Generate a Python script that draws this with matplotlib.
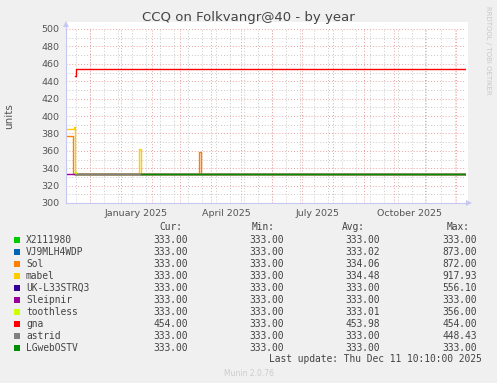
import matplotlib
matplotlib.use("Agg")
import matplotlib.pyplot as plt
import matplotlib.dates as mdates
from matplotlib.patches import Rectangle
import pandas as pd

W, H = 497, 383

names = ["X2111980", "VJ9MLH4WDP", "Sol", "mabel", "UK-L33STRQ3",
         "Sleipnir", "toothless", "gna", "astrid", "LGwebOSTV"]
colors = ["#00CC00", "#0066B3", "#FF8000", "#FFCC00", "#330099",
          "#990099", "#CCFF00", "#FF0000", "#808080", "#008F00"]

# change points: each value holds until the next date
x2111980_t = ["2024-11-16", "2025-12-11"]
x2111980_v = [333, 333]
vj9_t = ["2024-11-16", "2025-12-11"]
vj9_v = [333, 333]
sol_t = ["2024-11-07", "2024-11-14", "2025-03-20", "2025-03-22", "2025-12-11"]
sol_v = [377, 333, 359, 333, 333]
mabel_t = ["2024-11-07", "2024-11-15", "2024-11-16", "2025-01-19", "2025-01-21", "2025-12-11"]
mabel_v = [385, 387, 333, 362, 333, 333]
uk_t = ["2024-11-16", "2025-12-11"]
uk_v = [333, 333]
sleipnir_t = ["2024-11-07", "2025-12-11"]
sleipnir_v = [333, 333]
toothless_t = ["2024-11-16", "2024-11-17", "2025-12-11"]
toothless_v = [336, 333, 333]
gna_t = ["2024-11-16", "2024-11-17", "2025-12-11"]
gna_v = [446, 454, 454]
astrid_t = ["2024-11-16", "2025-12-11"]
astrid_v = [333, 333]
lgweb_t = ["2025-01-21", "2025-12-11"]
lgweb_v = [333, 333]

series_t = [x2111980_t, vj9_t, sol_t, mabel_t, uk_t,
            sleipnir_t, toothless_t, gna_t, astrid_t, lgweb_t]
series_v = [x2111980_v, vj9_v, sol_v, mabel_v, uk_v,
            sleipnir_v, toothless_v, gna_v, astrid_v, lgweb_v]

cur_vals = [333.00, 333.00, 333.00, 333.00, 333.00, 333.00, 333.00, 454.00, 333.00, 333.00]
min_vals = [333.00, 333.00, 333.00, 333.00, 333.00, 333.00, 333.00, 333.00, 333.00, 333.00]
avg_vals = [333.00, 333.02, 334.06, 334.48, 333.00, 333.00, 333.01, 453.98, 333.00, 333.00]
max_vals = [333.00, 873.00, 872.00, 917.93, 556.10, 333.00, 356.00, 454.00, 448.43, 333.00]

y_ticks = list(range(300, 501, 20))
y_minor = list(range(310, 500, 20))
x_label_pos = ["2025-01-16", "2025-04-16", "2025-07-16", "2025-10-16"]


def fp(x, y):
    # pixel (from top-left) -> figure fraction
    return x / W, 1 - y / H


fig = plt.figure(figsize=(W / 100, H / 100), dpi=100, facecolor="#F0F0F0")

# white canvas behind the plot
bg = fig.add_axes([66 / W, 1 - 203 / H, 402 / W, 181 / H], zorder=0)
bg.set_axis_off()
bg.add_patch(Rectangle((0, 0), 1, 1, transform=bg.transAxes, facecolor="white", edgecolor="none"))

ax = fig.add_axes([66 / W, 1 - 203 / H, 400 / W, 174 / H], zorder=2)
ax.set_facecolor("none")
for s in ax.spines.values():
    s.set_visible(False)

t0 = pd.Timestamp("2024-11-07 10:10")
t1 = pd.Timestamp("2025-12-11 10:10")
ax.set_xlim(t0, t1)
ax.set_ylim(300, 500)

dot = (0, (1, 2))
# grid lines
for d in pd.date_range("2024-11-17", t1, freq="14D"):
    ax.axvline(d, color="#C8C8C8", lw=0.7, ls=dot, zorder=1)
for yv in y_minor:
    ax.axhline(yv, color="#C8C8C8", lw=0.7, ls=dot, zorder=1)
for d in pd.date_range("2024-12-01", t1, freq="MS"):
    ax.axvline(d, color="#EBA0A0", lw=0.7, ls=dot, zorder=2)
for yv in y_ticks:
    ax.axhline(yv, color="#EBA0A0", lw=0.7, ls=dot, zorder=2)

for t, v, c in zip(series_t, series_v, colors):
    ax.plot(pd.to_datetime(t), v, color=c, lw=1.0, drawstyle="steps-post", zorder=3)

ax.set_yticks(y_ticks)
ax.set_xticks(pd.to_datetime(x_label_pos))
ax.xaxis.set_major_formatter(mdates.DateFormatter("%B %Y"))
ax.tick_params(length=0, labelsize=6.8, colors="#555555", pad=4)
ax.tick_params(axis="y", pad=5)
ax.set_ylabel("units", fontsize=7.5, color="#555555", labelpad=19)

# axis lines with arrows
ax_col = "#C8C8F5"
fig.add_artist(plt.Line2D([66 / W, 468 / W], [1 - 203 / H] * 2, transform=fig.transFigure,
                          color=ax_col, lw=0.8, zorder=5))
fig.add_artist(plt.Line2D([66 / W] * 2, [1 - 203 / H, 1 - 25 / H], transform=fig.transFigure,
                          color=ax_col, lw=0.8, zorder=5))
fig.add_artist(plt.Polygon([fp(466, 200), fp(472, 203), fp(466, 206)], closed=True,
                           transform=fig.transFigure, facecolor=ax_col, edgecolor="none", zorder=5))
fig.add_artist(plt.Polygon([fp(63, 27), fp(66, 21), fp(69, 27)], closed=True,
                           transform=fig.transFigure, facecolor=ax_col, edgecolor="none", zorder=5))

fig.text(*fp(248, 17), "CCQ on Folkvangr@40 - by year", ha="center", va="center",
         fontsize=9.5, color="#444444")
fig.text(*fp(488, 6), "RRDTOOL / TOBI OETIKER", ha="center", va="top", rotation=270,
         fontsize=5, color="#C8C8C8")

# legend table
mono = "DejaVu Sans Mono"
fs = 6.9
tc = "#444444"
hy = 227
for lab, xr in [("Cur:", 182), ("Min:", 275), ("Avg:", 365), ("Max:", 470)]:
    fig.text(*fp(xr, hy), lab, ha="right", va="center", family=mono, fontsize=fs, color=tc)

for i, (n, c) in enumerate(zip(names, colors)):
    y = 240 + i * 12
    fig.patches.append(Rectangle(fp(14, y + 3), 6 / W, 6 / H, transform=fig.transFigure,
                                 facecolor=c, edgecolor="none"))
    fig.text(*fp(26, y), n, ha="left", va="center", family=mono, fontsize=fs, color=tc)
    for vals, xr in [(cur_vals, 188), (min_vals, 284), (avg_vals, 380), (max_vals, 477)]:
        fig.text(*fp(xr, y), "%.2f" % vals[i], ha="right", va="center",
                 family=mono, fontsize=fs, color=tc)

fig.text(*fp(482, 359), "Last update: Thu Dec 11 10:10:00 2025", ha="right", va="center",
         family=mono, fontsize=fs, color=tc)
fig.text(*fp(249, 373), "Munin 2.0.76", ha="center", va="center", fontsize=5.5, color="#CCCCCC")

fig.savefig("out.png", dpi=100, facecolor=fig.get_facecolor())
